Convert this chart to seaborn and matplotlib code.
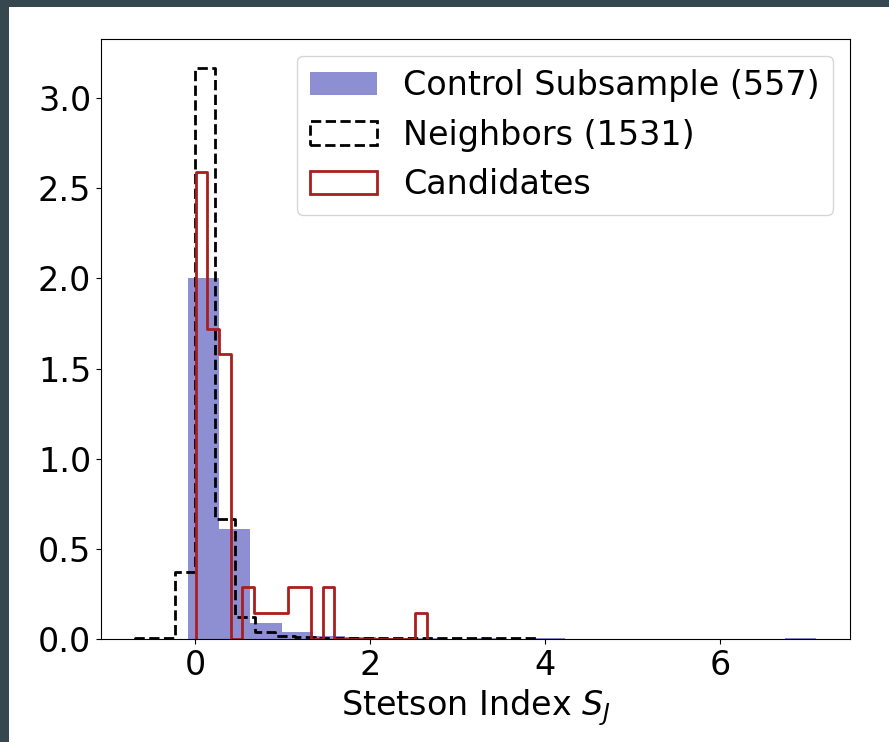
import numpy as np
import pandas as pd
import matplotlib
matplotlib.use("Agg")
import matplotlib.pyplot as plt
from matplotlib.patches import Patch, Rectangle
import seaborn as sns

# Bin edges (density histograms)
control_edges = np.linspace(-0.084, 7.10, 21)
neighbor_edges = np.linspace(-0.686, 3.894, 21)
candidate_edges = np.linspace(0.01, 2.65, 21)

# Density heights per bin
control_density = [2.00, 0.61, 0.087, 0.041, 0.015, 0.010, 0.005, 0.005, 0.0, 0.005,
                   0.0, 0.005, 0.0, 0.0, 0.0, 0.0, 0.0, 0.0, 0.0, 0.005]
neighbor_density = [0.003, 0.003, 0.373, 3.165, 0.668, 0.124, 0.040, 0.015, 0.009, 0.006,
                    0.003, 0.003, 0.006, 0.003, 0.003, 0.003, 0.003, 0.003, 0.006, 0.003]
candidate_density = [2.59, 1.72, 1.58, 0.0, 0.29, 0.145, 0.145, 0.145, 0.29, 0.29,
                     0.0, 0.29, 0.0, 0.0, 0.0, 0.0, 0.0, 0.0, 0.0, 0.145]

labels = ["Control Subsample (557)", "Neighbors (1531)", "Candidates"]
control_color = "#8e8ed3"
candidate_color = "#a91e1e"
FS = 24


def binned(edges, heights):
    return pd.DataFrame({"x": 0.5 * (edges[:-1] + edges[1:]), "w": heights})


def close_step(line):
    # drop the step outline to the baseline at both ends, like histtype="step"
    x, y = line.get_data()
    line.set_data(np.r_[x[0], x, x[-1]], np.r_[0.0, y, 0.0])


fig = plt.figure(figsize=(8.89, 7.42), dpi=100)
fig.patch.set_facecolor("#37474f")
fig.add_artist(Rectangle((9 / 889, 0), 1, 735 / 742, transform=fig.transFigure,
                         facecolor="white", edgecolor="none", zorder=-10))
ax = fig.add_axes([101 / 889, 1 - 639 / 742, 749 / 889, 600 / 742])

sns.histplot(data=binned(control_edges, control_density), x="x", weights="w",
             bins=list(control_edges), element="bars", fill=True,
             color=control_color, alpha=1.0, linewidth=0, ax=ax)
sns.histplot(data=binned(neighbor_edges, neighbor_density), x="x", weights="w",
             bins=list(neighbor_edges), element="step", fill=False,
             color="black", linestyle="--", linewidth=2, ax=ax)
close_step(ax.lines[-1])
sns.histplot(data=binned(candidate_edges, candidate_density), x="x", weights="w",
             bins=list(candidate_edges), element="step", fill=False,
             color=candidate_color, linewidth=2, ax=ax)
close_step(ax.lines[-1])

ax.set_ylabel("")
ax.set_xlabel(r"Stetson Index $S_J$", fontsize=FS)
ax.tick_params(labelsize=FS)
ax.set_yticks([0.0, 0.5, 1.0, 1.5, 2.0, 2.5, 3.0])
ax.set_xticks([0, 2, 4, 6])
ax.set_xlim(-1.074, 7.486)
ax.set_ylim(0, 3.328)

handles = [
    Patch(facecolor=control_color, edgecolor="none"),
    Patch(facecolor="none", edgecolor="black", linestyle="--", linewidth=2),
    Patch(facecolor="none", edgecolor=candidate_color, linewidth=2),
]
ax.legend(handles, labels, loc="upper right", fontsize=FS)

fig.savefig("out.png", dpi=100, facecolor=fig.get_facecolor())
